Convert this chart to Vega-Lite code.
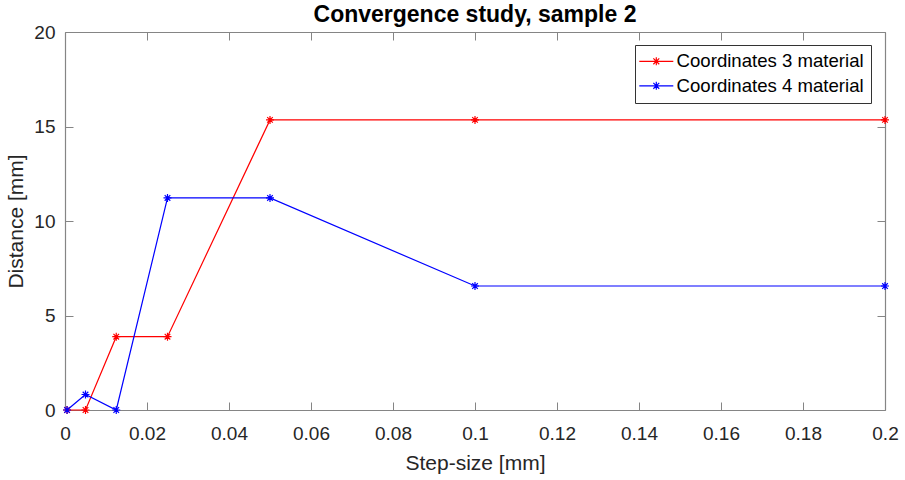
{
  "$schema": "https://vega.github.io/schema/vega-lite/v6.json",
  "autosize": {"type": "none"},
  "width": 820,
  "height": 378,
  "padding": {"left": 65, "top": 32, "right": 20, "bottom": 70},
  "background": "white",
  "title": {
    "text": "Convergence study, sample 2",
    "font": "Liberation Sans",
    "fontSize": 23,
    "fontWeight": "bold",
    "color": "#000000",
    "anchor": "middle",
    "offset": -4
  },
  "config": {
    "view": {"stroke": null},
    "axis": {
      "labelFont": "Liberation Sans",
      "titleFont": "Liberation Sans",
      "labelFontSize": 19,
      "titleFontSize": 21,
      "titleFontWeight": "normal",
      "labelColor": "#262626",
      "titleColor": "#262626",
      "domainColor": "#858585",
      "tickColor": "#858585",
      "domainWidth": 1.2,
      "tickWidth": 1,
      "grid": false,
      "labelFlush": false
    },
    "legend": {
      "labelFont": "Liberation Sans",
      "labelFontSize": 18.6,
      "labelColor": "#000000",
      "labelLimit": 400
    }
  },
  "data": {
    "values": [
      {"step": 0.0005, "distance": 0, "series": "Coordinates 3 material"},
      {"step": 0.005, "distance": 0, "series": "Coordinates 3 material"},
      {"step": 0.0125, "distance": 3.88, "series": "Coordinates 3 material"},
      {"step": 0.025, "distance": 3.88, "series": "Coordinates 3 material"},
      {"step": 0.05, "distance": 15.35, "series": "Coordinates 3 material"},
      {"step": 0.1, "distance": 15.35, "series": "Coordinates 3 material"},
      {"step": 0.2, "distance": 15.35, "series": "Coordinates 3 material"},
      {"step": 0.0005, "distance": 0, "series": "Coordinates 4 material"},
      {"step": 0.005, "distance": 0.82, "series": "Coordinates 4 material"},
      {"step": 0.0125, "distance": 0, "series": "Coordinates 4 material"},
      {"step": 0.025, "distance": 11.22, "series": "Coordinates 4 material"},
      {"step": 0.05, "distance": 11.22, "series": "Coordinates 4 material"},
      {"step": 0.1, "distance": 6.56, "series": "Coordinates 4 material"},
      {"step": 0.2, "distance": 6.56, "series": "Coordinates 4 material"}
    ]
  },
  "resolve": {"axis": {"x": "independent", "y": "independent"}},
  "layer": [
    {
      "mark": {
        "type": "line",
        "strokeWidth": 1.2,
        "point": {
          "shape": "M-1,0H1M0,-1V1M-0.7,-0.7L0.7,0.7M-0.7,0.7L0.7,-0.7",
          "filled": false,
          "size": 64,
          "strokeWidth": 1.2
        }
      },
      "encoding": {
        "x": {
          "field": "step",
          "type": "quantitative",
          "scale": {"domain": [0, 0.2], "nice": false, "zero": false},
          "axis": {
            "orient": "bottom",
            "title": "Step-size [mm]",
            "values": [0, 0.02, 0.04, 0.06, 0.08, 0.1, 0.12, 0.14, 0.16, 0.18, 0.2],
            "format": "~g",
            "tickSize": -8,
            "labelPadding": 22,
            "titlePadding": 9
          }
        },
        "y": {
          "field": "distance",
          "type": "quantitative",
          "scale": {"domain": [0, 20], "nice": false},
          "axis": {
            "orient": "left",
            "title": "Distance [mm]",
            "values": [0, 5, 10, 15, 20],
            "tickSize": -8,
            "labelPadding": 18,
            "titlePadding": 7
          }
        },
        "color": {
          "field": "series",
          "type": "nominal",
          "scale": {"domain": ["Coordinates 3 material", "Coordinates 4 material"], "range": ["#ff0000", "#0000ff"]},
          "legend": {
            "title": null,
            "orient": "none",
            "legendX": 570,
            "legendY": 13,
            "symbolType": "M-2.125,0H2.125M0,-0.5V0.5M-0.37,-0.37L0.37,0.37M-0.37,0.37L0.37,-0.37",
            "symbolSize": 256,
            "symbolStrokeWidth": 1.2,
            "symbolFillColor": "transparent",
            "symbolOffset": 5,
            "labelOffset": 11,
            "rowPadding": 5.5,
            "padding": 7,
            "strokeColor": "#333333",
            "fillColor": "#ffffff",
            "cornerRadius": 0
          }
        }
      }
    },
    {
      "mark": {"type": "point", "opacity": 0},
      "encoding": {
        "x": {
          "field": "step",
          "type": "quantitative",
          "axis": {
            "orient": "top",
            "title": null,
            "labels": false,
            "values": [0, 0.02, 0.04, 0.06, 0.08, 0.1, 0.12, 0.14, 0.16, 0.18, 0.2],
            "tickSize": -8
          }
        },
        "y": {
          "field": "distance",
          "type": "quantitative",
          "axis": {
            "orient": "right",
            "title": null,
            "labels": false,
            "values": [0, 5, 10, 15, 20],
            "tickSize": -8
          }
        }
      }
    }
  ]
}
